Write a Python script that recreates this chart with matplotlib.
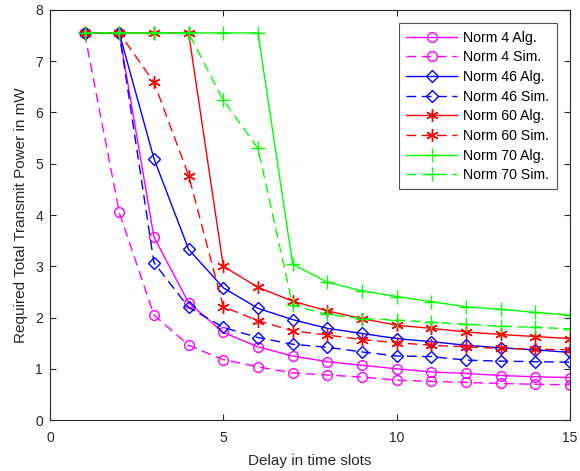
import matplotlib
matplotlib.use("Agg")
import matplotlib.pyplot as plt
import numpy as np

plt.rcParams['font.family'] = ['Liberation Sans', 'DejaVu Sans']

delay = list(range(1, 16))

norm4_alg = [7.55, 7.55, 3.57, 2.29, 1.71, 1.43, 1.25, 1.14, 1.07, 1.00, 0.94, 0.91, 0.87, 0.845, 0.83]
norm4_sim = [7.55, 4.05, 2.05, 1.46, 1.18, 1.04, 0.92, 0.88, 0.84, 0.78, 0.755, 0.735, 0.715, 0.70, 0.69]
norm46_alg = [7.55, 7.55, 5.10, 3.33, 2.58, 2.18, 1.96, 1.79, 1.69, 1.59, 1.53, 1.46, 1.41, 1.37, 1.32]
norm46_sim = [7.55, 7.55, 3.07, 2.20, 1.81, 1.61, 1.48, 1.42, 1.33, 1.25, 1.24, 1.17, 1.15, 1.14, 1.13]
norm60_alg = [7.55, 7.55, 7.55, 7.55, 3.00, 2.59, 2.32, 2.13, 1.98, 1.85, 1.79, 1.72, 1.67, 1.63, 1.59]
norm60_sim = [7.55, 7.55, 6.59, 4.77, 2.21, 1.94, 1.74, 1.66, 1.57, 1.51, 1.46, 1.43, 1.40, 1.385, 1.37]
norm70_alg = [7.55, 7.55, 7.55, 7.55, 7.55, 7.55, 3.04, 2.69, 2.52, 2.41, 2.31, 2.21, 2.16, 2.10, 2.05]
norm70_sim = [7.55, 7.55, 7.55, 7.55, 6.24, 5.30, 2.24, 2.06, 1.98, 1.95, 1.91, 1.87, 1.83, 1.81, 1.78]

labels = ["Norm 4 Alg.", "Norm 4 Sim.", "Norm 46 Alg.", "Norm 46 Sim.",
          "Norm 60 Alg.", "Norm 60 Sim.", "Norm 70 Alg.", "Norm 70 Sim."]
series = [norm4_alg, norm4_sim, norm46_alg, norm46_sim,
          norm60_alg, norm60_sim, norm70_alg, norm70_sim]
colors = ['#ff00ff', '#ff00ff', '#0000ff', '#0000ff', '#ff0000', '#ff0000', '#00ff00', '#00ff00']
markers = ['o', 'o', 'D', 'D', '*', '*', '+', '+']
msizes = [7, 7, 6, 6, 9, 9, 10, 10]

fig = plt.figure(figsize=(5.8, 4.71), dpi=100)
ax = fig.add_axes([0.086, 0.108, 0.897, 0.871])

for i, (y, lab) in enumerate(zip(series, labels)):
    dashed = (i % 2 == 1)
    mk = markers[i]
    kw = dict(color=colors[i], marker=mk, markersize=msizes[i], linewidth=1.0, label=lab,
              markerfacecolor='none', markeredgecolor=colors[i], markeredgewidth=1.0)
    if mk == '*':
        kw['marker'] = (6, 2, 0)
    if dashed:
        line, = ax.plot(delay, y, linestyle='--', **kw)
        line.set_dashes((7, 4))
    else:
        ax.plot(delay, y, linestyle='-', **kw)

ax.set_xlim(0, 15)
ax.set_ylim(0, 8)
ax.set_xticks([0, 5, 10, 15])
ax.set_yticks(range(0, 9))
ax.tick_params(direction='in', top=True, right=True, labelsize=10, colors='#262626', length=4)
ax.tick_params(axis='x', pad=8)
ax.tick_params(axis='y', pad=5)
for s in ax.spines.values():
    s.set_color('#262626')
    s.set_linewidth(0.8)
ax.set_xlabel("Delay in time slots", fontsize=11, color='#262626', labelpad=6)
ax.set_ylabel("Required Total Transmit Power in mW", fontsize=11, color='#262626', labelpad=5)

leg = ax.legend(loc='upper right', bbox_to_anchor=(0.974, 0.967), borderaxespad=0,
                fontsize=10.2, frameon=True,
                fancybox=False, edgecolor='#262626', handlelength=3.6, labelspacing=0.4,
                borderpad=0.5, handletextpad=0.45)
leg.get_frame().set_linewidth(0.8)

fig.savefig("out.png", dpi=100)
